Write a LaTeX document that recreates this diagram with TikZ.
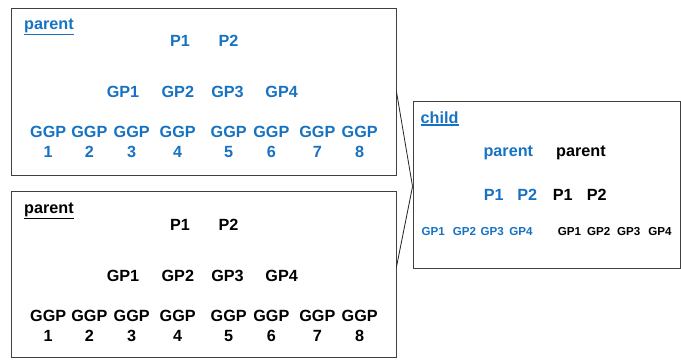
\documentclass[tikz,border=0pt]{standalone}
\usepackage{fontspec}
\setmainfont{Liberation Sans}
\definecolor{famblue}{RGB}{23,114,194}
\newcommand{\ultext}[1]{\vtop{\hbox{#1}\kern1.2pt\hrule height 1.3pt}}
\tikzset{
  panel/.style={draw=black!75, line width=0.9pt, inner sep=0pt},
  lbl/.style={font=\fontsize{16.2}{19}\selectfont\bfseries, inner sep=0pt, anchor=base},
  tiny/.style={font=\fontsize{11.6}{13}\selectfont\bfseries, inner sep=0pt, anchor=base},
  link/.style={draw=black!85, line width=0.8pt},
}
\begin{document}
\begin{tikzpicture}[x=1pt,y=-1pt]
  \useasboundingbox (0,0) rectangle (681,360);
  \node[panel, minimum width=385, minimum height=167] (top) at (203.5,91.5) {};
  \node[panel, minimum width=385, minimum height=166] (bot) at (203.5,274) {};
  \node[panel, minimum width=267, minimum height=167] (child) at (546.5,184.5) {};
  \foreach \p/\dy/\c in {t/0/famblue, b/184/black} {
    \node[lbl, anchor=base west, text=\c] (\p-title) at (24,29+\dy) {\ultext{parent}};
    \node[lbl, text=\c] (\p-p1) at (180,46+\dy) {P1};
    \node[lbl, text=\c] (\p-p2) at (228.5,46+\dy) {P2};
    \foreach \x [count=\i] in {123,177.8,227.5,281.7}
      \node[lbl, text=\c] (\p-gp\i) at (\x,97+\dy) {GP\i};
    \foreach \x [count=\i] in {48.2,89.3,131.7,177.7,228.7,271.3,317.3,359.7} {
      \node[lbl, text=\c] (\p-ggp\i) at (\x,137+\dy) {GGP};
      \node[lbl, text=\c] (\p-num\i) at (\x,157+\dy) {\i};
    }
  }
  \node[lbl, anchor=base west, text=famblue] (c-title) at (420.5,123) {\ultext{child}};
  \node[lbl, text=famblue] (c-par1) at (508.3,156.7) {parent};
  \node[lbl] (c-par2) at (581,156.7) {parent};
  \node[lbl, text=famblue] (c-p1) at (493.7,200) {P1};
  \node[lbl, text=famblue] (c-p2) at (527.3,200) {P2};
  \node[lbl] (c-p3) at (562.7,200) {P1};
  \node[lbl] (c-p4) at (596.7,200) {P2};
  \foreach \x [count=\i] in {433.2,464.5,492.2,521}
    \node[tiny, text=famblue] (c-gpa\i) at (\x,235.7) {GP\i};
  \foreach \x [count=\i] in {569.5,598.8,628.8,660}
    \node[tiny] (c-gpb\i) at (\x,235.7) {GP\i};
  \begin{scope}[link]
    \draw (top.east) -- ([yshift=-2pt]child.west);
    \draw ([yshift=7pt]bot.east) -- ([yshift=-2pt]child.west);
  \end{scope}
\end{tikzpicture}
\end{document}
